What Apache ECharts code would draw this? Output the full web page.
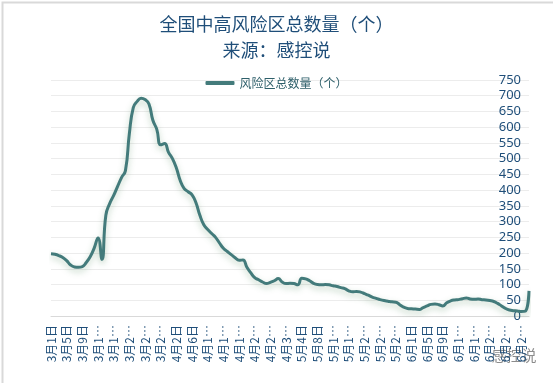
<!DOCTYPE html>
<html>
<head>
<meta charset="utf-8">
<script src="https://cdn.jsdelivr.net/npm/echarts@6/dist/echarts.min.js"></script>
<style>html,body{margin:0;padding:0;background:#fff;}#c{width:553px;height:383px;}</style>
</head>
<body>
<div id="c"></div>
<script>
// month name + number of days shown, from 3月1日 to 7月1日
const monthSpans = [[3, 31], [4, 30], [5, 31], [6, 30], [7, 1]];
const categories = [];
monthSpans.forEach(function (m) { for (let d = 1; d <= m[1]; d++) categories.push(m[0] + '月' + d + '日'); });

const seriesName = '风险区总数量（个）';
const riskAreas = [
  198, 196, 192, 186, 176, 162, 156, 155, 157, 170,
  188, 215, 248, 180, 320, 358, 383, 412, 440, 462,
  580, 662, 682, 692, 688, 674, 622, 593, 544, 548,
  520, 500, 470, 430, 405, 395, 385, 360, 320, 290,
  275, 262, 250, 232, 215, 205, 195, 185, 177, 178,
  155, 137, 122, 115, 108, 103, 107, 112, 119, 108,
  103, 104, 103, 99, 120, 118, 112, 104, 100, 99,
  100, 99, 96, 94, 90, 87, 80, 77, 78, 76,
  71, 66, 60, 56, 52, 49, 47, 45, 44, 36,
  28, 24, 23, 22, 21, 27, 32, 37, 38, 36,
  32, 42, 48, 51, 52, 55, 57, 54, 53, 54,
  52, 51, 49, 46, 40, 32, 24, 19, 17, 16,
  14, 15, 80
];
const titleText = '全国中高风险区总数量（个）\n来源：感控说';
const watermark = '感控说';

const chart = echarts.init(document.getElementById('c'));
chart.setOption({
  backgroundColor: '#fff',
  animation: false,
  title: {
    text: titleText,
    left: 'center',
    top: 6,
    textStyle: { color: '#1f4e79', fontSize: 18, fontWeight: 'normal', lineHeight: 26, fontFamily: 'Noto Sans CJK SC' }
  },
  legend: {
    data: [seriesName],
    top: 72,
    left: 'center',
    icon: 'roundRect',
    itemWidth: 29,
    itemHeight: 4,
    itemGap: 4,
    textStyle: { color: '#2e5f6a', fontSize: 12, fontFamily: 'Noto Sans CJK SC' }
  },
  grid: { left: 51, right: 24, top: 80, bottom: 67, containLabel: false },
  xAxis: {
    type: 'category',
    data: categories,
    boundaryGap: false,
    axisLine: { lineStyle: { color: '#d9d9d9' } },
    axisTick: { show: false },
    axisLabel: {
      interval: 3,
      rotate: 90,
      margin: 9,
      color: '#1f4e79',
      fontSize: 12,
      fontFamily: 'Noto Sans CJK SC',
      width: 43,
      overflow: 'truncate',
      ellipsis: '…'
    }
  },
  yAxis: {
    type: 'value',
    position: 'right',
    min: 0,
    max: 750,
    interval: 50,
    axisLine: { show: false },
    axisTick: { show: false },
    axisLabel: { inside: true, margin: 8, color: '#1f4e79', fontSize: 13, fontFamily: 'Noto Sans' },
    splitLine: { lineStyle: { color: '#ececec' } }
  },
  series: [{
    name: seriesName,
    type: 'line',
    data: riskAreas,
    smooth: true,
    showSymbol: false,
    symbol: 'none',
    color: '#437b7b',
    lineStyle: { width: 3, color: '#437b7b', shadowColor: 'rgba(70,130,80,0.35)', shadowBlur: 6, shadowOffsetY: 3 }
  }],
  graphic: [
    { type: 'rect', left: 0, top: 0, shape: { width: 552, height: 382 }, style: { fill: 'none', stroke: '#d9d9d9', lineWidth: 2 }, silent: true },
    { type: 'text', right: 16, bottom: 20, style: { text: watermark, fill: '#8c8c8c', fontSize: 15, fontFamily: 'Noto Sans CJK SC', stroke: '#fff', lineWidth: 1 } }
  ]
});
</script>
</body>
</html>
